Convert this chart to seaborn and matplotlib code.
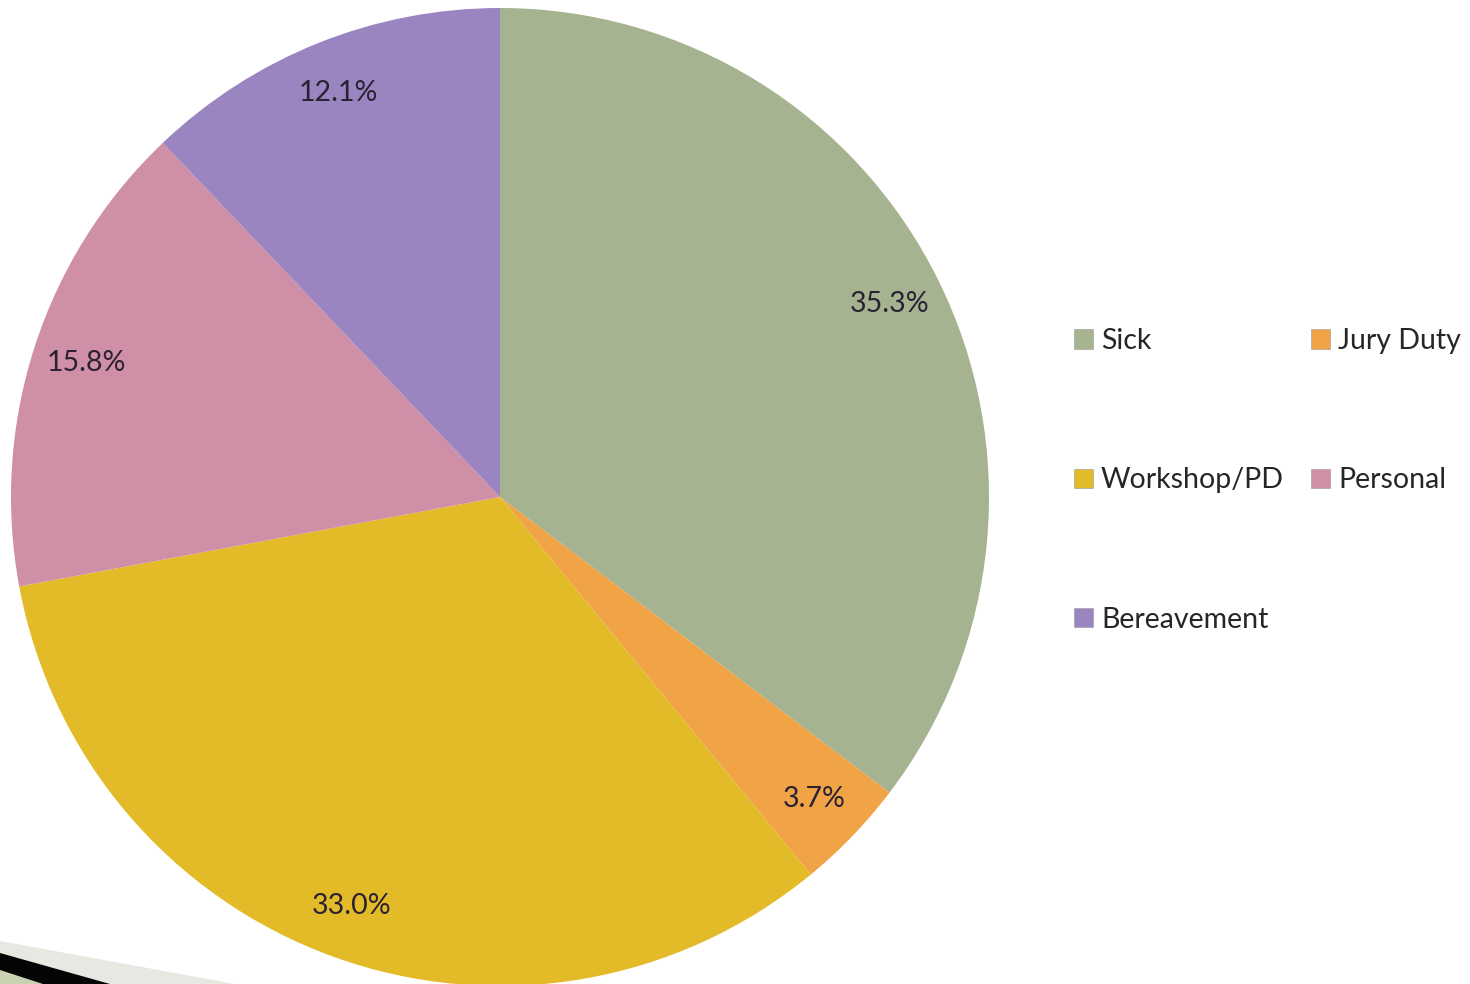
import matplotlib
matplotlib.use("Agg")
import matplotlib.pyplot as plt
from matplotlib.patches import Polygon, Patch
import seaborn as sns

categories = ["Sick", "Jury Duty", "Workshop/PD", "Personal", "Bereavement"]
shares = [35.3, 3.7, 33.0, 15.8, 12.1]
colors = ["#A6B391", "#F0A446", "#E3BB29", "#CF8FA6", "#9B85C1"]

sns.set_theme(style="white")
plt.rcParams["font.family"] = ["Lato", "DejaVu Sans"]

W, H = 1470, 984
fig = plt.figure(figsize=(W / 100, H / 100), dpi=100)
fig.patch.set_facecolor("white")

# pie axes: centre (500, 497) px, radius 489 px
cx, cy, r = 500, 497, 489
ax = fig.add_axes([(cx - r) / W, (H - cy - r) / H, 2 * r / W, 2 * r / H])
palette = sns.color_palette(colors)
wedges, texts, autotexts = ax.pie(
    shares,
    colors=palette,
    startangle=90,
    counterclock=False,
    autopct=lambda p: f"{p:.1f}%",
    pctdistance=0.89,
    wedgeprops=dict(linewidth=0),
    textprops=dict(color="#2a2233", fontsize=20.5),
)
ax.set_xlim(-1, 1)
ax.set_ylim(-1, 1)
ax.set_aspect("equal")
ax.axis("off")

# legend: two columns, filled column by column
order = [0, 2, 4, 1, 3]
handles = [Patch(facecolor=palette[i], edgecolor="#999999", linewidth=0.4) for i in order]
labels = [categories[i] for i in order]
fig.legend(
    handles, labels,
    loc="upper left",
    bbox_to_anchor=(1074 / W, 1 - 328 / H),
    ncol=2,
    frameon=False,
    fontsize=20.5,
    handlelength=0.67,
    handleheight=0.67,
    handletextpad=0.28,
    labelspacing=3.98,
    columnspacing=0.95,
    borderaxespad=0,
    borderpad=0,
)

# slide corner stripes
def px(points):
    return [(x / W, 1 - y / H) for x, y in points]

fig.add_artist(Polygon(px([(0, 941), (235, 984), (0, 984)]), closed=True,
                       facecolor="#E6E9E2", edgecolor="none", transform=fig.transFigure))
fig.add_artist(Polygon(px([(0, 953), (110, 984), (0, 984)]), closed=True,
                       facecolor="#050505", edgecolor="none", transform=fig.transFigure))
fig.add_artist(Polygon(px([(0, 970), (43, 984), (0, 984)]), closed=True,
                       facecolor="#C9D3B3", edgecolor="none", transform=fig.transFigure))

fig.savefig("out.png", dpi=100, facecolor="white")
